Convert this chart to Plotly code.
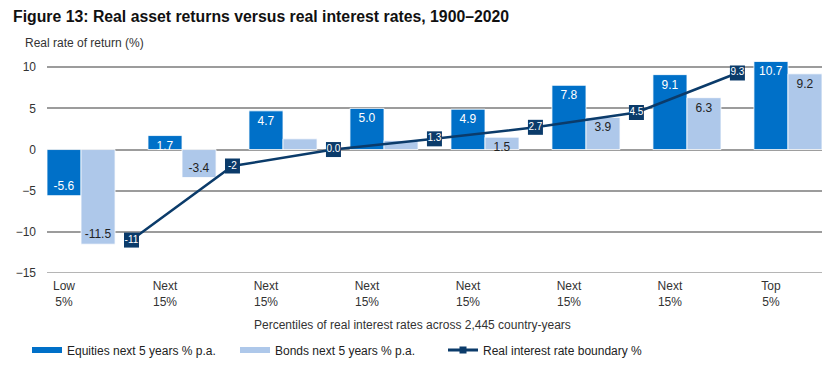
import plotly.graph_objects as go

# ---- data ----
group_labels = ["Low<br>5%", "Next<br>15%", "Next<br>15%", "Next<br>15%",
                "Next<br>15%", "Next<br>15%", "Next<br>15%", "Top<br>5%"]
equities = [-5.6, 1.7, 4.7, 5.0, 4.9, 7.8, 9.1, 10.7]
bonds = [-11.5, -3.4, 1.3, 1.1, 1.5, 3.9, 6.3, 9.2]
bond_text = ["-11.5", "-3.4", "", "", "1.5", "3.9", "6.3", "9.2"]
boundary = [-11, -2, 0.0, 1.3, 2.7, 4.5, 9.3]
boundary_text = ["-11", "-2", "0.0", "1.3", "2.7", "4.5", "9.3"]

EQ = "#0070C8"
BD = "#AEC8EA"
NAVY = "#0B3B6A"
FONT = "Liberation Sans, Arial, sans-serif"

# page body has an 8px margin: figure coordinates = page coordinates - 8
OFF = 8
PL, PR, PT, PB = 47 - OFF, 822 - OFF, 59 - OFF, 273.3 - OFF
PW, PH = PR - PL, PB - PT

W = 0.337          # bar width in category units
idx = list(range(len(group_labels)))
bx = [i + 0.668 for i in range(len(boundary))]

fig = go.Figure()
fig.add_trace(go.Bar(
    x=idx, y=equities, width=W, offset=-W / 2,
    marker=dict(color=EQ, line=dict(color="white", width=0.8)),
    text=[f"{v:.1f}" for v in equities], textposition="inside",
    insidetextanchor="end", textfont=dict(color="white", size=12, family=FONT),
    showlegend=False, name="Equities next 5 years % p.a."))
fig.add_trace(go.Bar(
    x=idx, y=bonds, width=W, offset=W / 2,
    marker=dict(color=BD, line=dict(color="white", width=0.8)),
    text=bond_text, textposition="inside",
    insidetextanchor="end", textfont=dict(color="#222222", size=12, family=FONT),
    showlegend=False, name="Bonds next 5 years % p.a."))
fig.add_trace(go.Scatter(
    x=bx, y=boundary, mode="lines+markers+text",
    line=dict(color=NAVY, width=2.5),
    marker=dict(symbol="square", size=15, color=NAVY),
    text=boundary_text, textposition="middle center",
    textfont=dict(color="white", size=10, family=FONT),
    showlegend=False, name="Real interest rate boundary %"))

# legend entries
fig.add_trace(go.Scatter(x=[None], y=[None], mode="lines",
                         line=dict(color=EQ, width=6),
                         name="Equities next 5 years % p.a."))
fig.add_trace(go.Scatter(x=[None], y=[None], mode="lines",
                         line=dict(color=BD, width=6),
                         name="Bonds next 5 years % p.a."))
fig.add_trace(go.Scatter(x=[None], y=[None], mode="lines+markers",
                         line=dict(color=NAVY, width=3),
                         marker=dict(symbol="square", size=7, color=NAVY),
                         name="Real interest rate boundary %"))

fig.update_layout(
    width=835, height=370,
    margin=dict(l=PL, r=835 - PR, t=PT, b=370 - PB, autoexpand=False),
    paper_bgcolor="white", plot_bgcolor="white",
    font=dict(family=FONT, size=12, color="#333333"),
    barmode="overlay",
    uniformtext=dict(minsize=12, mode="show"),
    title=dict(text="<b>Figure 13: Real asset returns versus real interest rates, 1900–2020</b>",
               x=(13 - OFF) / 835, xanchor="left", xref="container",
               y=1 - 8.5 / 370, yanchor="middle", yref="container",
               font=dict(size=15.8, color="#111111", family=FONT)),
    xaxis=dict(range=[-W / 2, 7 + 1.5 * W], tickvals=idx, ticktext=group_labels,
               showgrid=False, zeroline=False, showline=False, ticks="",
               ticklabelstandoff=4,
               tickfont=dict(size=12, color="#333333"), fixedrange=True),
    yaxis=dict(range=[-15, 11], tickvals=[-15, -10, -5, 0, 5, 10],
               showgrid=True, gridcolor="#9C9C9C", gridwidth=1.5,
               zeroline=True, zerolinecolor="#9C9C9C", zerolinewidth=1.5,
               ticks="", ticklabelstandoff=10,
               tickfont=dict(size=12, color="#333333")),
    legend=dict(orientation="h", xref="container", x=(27 - OFF) / 835, xanchor="left",
                yref="container", y=1 - (350 - OFF) / 370, yanchor="middle",
                entrywidth=163,
                font=dict(size=12, color="#222222"),
                bgcolor="rgba(0,0,0,0)"),
    annotations=[
        dict(text="Real rate of return (%)", xref="paper", yref="paper",
             x=(23 - 47) / PW, y=(273.3 - 43) / PH, xanchor="left",
             yanchor="middle", showarrow=False,
             font=dict(size=12, color="#333333")),
        dict(text="Percentiles of real interest rates across 2,445 country-years",
             xref="paper", yref="paper", x=(412 - 47) / PW,
             y=(273.3 - 325) / PH, xanchor="center", yanchor="middle",
             showarrow=False, font=dict(size=12, color="#333333")),
    ],
)
fig.add_shape(type="line", xref="paper", yref="y", x0=0, x1=1, y0=-15, y1=-15,
              line=dict(color="#9C9C9C", width=1.5), layer="below")

fig.write_html("out.html")
